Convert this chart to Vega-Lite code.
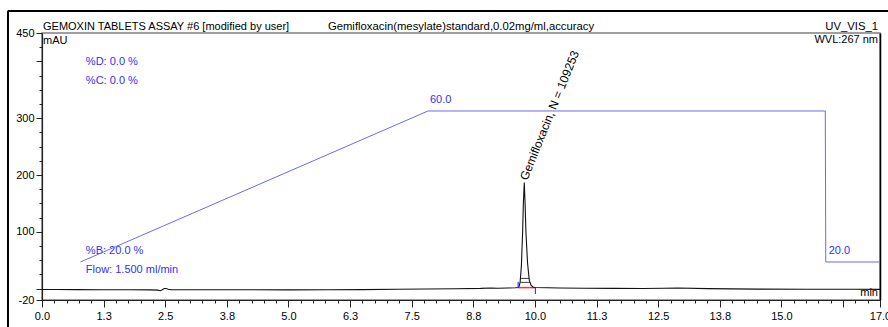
{
  "$schema": "https://vega.github.io/schema/vega-lite/v6.json",
  "width": 838,
  "height": 267,
  "autosize": {"type": "none"},
  "padding": {"left": 42, "top": 33, "right": 8, "bottom": 27},
  "background": "white",
  "config": {
    "view": {"stroke": "#808080", "strokeWidth": 1.5},
    "axis": {"labelFont": "Liberation Sans", "labelFontSize": 11, "labelColor": "#000", "domainColor": "#222", "tickColor": "#222", "grid": false, "title": null, "labelOverlap": false, "labelFlush": false, "labelBound": false},
    "text": {"font": "Liberation Sans", "fontSize": 11}
  },
  "datasets": {
    "chrom": [
      {"t": 0.0, "v": -1.5}, {"t": 0.3, "v": -1.6}, {"t": 0.7, "v": -1.8}, {"t": 1.2, "v": -2.0},
      {"t": 1.8, "v": -2.0}, {"t": 2.2, "v": -2.1}, {"t": 2.35, "v": -2.6}, {"t": 2.40, "v": -3.6},
      {"t": 2.44, "v": -2.0}, {"t": 2.48, "v": 0.2}, {"t": 2.52, "v": 0.3}, {"t": 2.56, "v": -1.0},
      {"t": 2.62, "v": -1.9}, {"t": 2.8, "v": -2.0}, {"t": 3.5, "v": -2.0}, {"t": 4.2, "v": -2.0},
      {"t": 5.0, "v": -2.1}, {"t": 5.8, "v": -2.0}, {"t": 6.5, "v": -1.7}, {"t": 7.2, "v": -1.2},
      {"t": 7.8, "v": -0.7}, {"t": 8.4, "v": -0.1}, {"t": 8.9, "v": 0.4}, {"t": 9.1, "v": 1.0},
      {"t": 9.25, "v": 0.8}, {"t": 9.45, "v": 1.2}, {"t": 9.60, "v": 1.5}, {"t": 9.66, "v": 2.0},
      {"t": 9.68, "v": 4.0}, {"t": 9.70, "v": 12}, {"t": 9.725, "v": 40}, {"t": 9.75, "v": 100},
      {"t": 9.765, "v": 150}, {"t": 9.784, "v": 187}, {"t": 9.80, "v": 150}, {"t": 9.817, "v": 100},
      {"t": 9.85, "v": 45}, {"t": 9.885, "v": 15}, {"t": 9.92, "v": 6}, {"t": 9.966, "v": 2.5},
      {"t": 10.02, "v": 2.0}, {"t": 10.5, "v": 1.2}, {"t": 11.0, "v": 0.8}, {"t": 11.6, "v": 0.5},
      {"t": 12.2, "v": 0.3}, {"t": 12.6, "v": 0.8}, {"t": 12.9, "v": 1.0}, {"t": 13.5, "v": 0.0},
      {"t": 14.5, "v": -0.8}, {"t": 15.5, "v": -1.0}, {"t": 16.5, "v": -1.2}, {"t": 17.0, "v": -1.3}
    ],
    "gradient": [
      {"t": 0.78, "B": 20}, {"t": 7.83, "B": 60}, {"t": 15.89, "B": 60}, {"t": 15.9, "B": 20}, {"t": 17.0, "B": 20}
    ],
    "notes": [
      {"t": 0.89, "v": 399, "label": "%D: 0.0 %"},
      {"t": 0.89, "v": 365.6, "label": "%C: 0.0 %"},
      {"t": 0.89, "v": 66.3, "label": "%B: 20.0 %"},
      {"t": 0.89, "v": 32.8, "label": "Flow: 1.500 ml/min"}
    ],
    "gradnotes": [
      {"t": 7.87, "B": 62.8, "label": "60.0"},
      {"t": 15.96, "B": 23, "label": "20.0"}
    ],
    "peak": [
      {"t": 9.77, "v": 192, "label": "Gemifloxacin, N = 109253"}
    ],
    "widths": [
      {"t": 9.70, "t2": 9.897, "v": 11},
      {"t": 9.706, "t2": 9.878, "v": 18}
    ],
    "delim": [
      {"t": 9.66, "v": 1.5, "v2": 12},
      {"t": 10.01, "v": 2.0, "v2": -9.5}
    ],
    "base": [
      {"t": 9.66, "t2": 10.01, "v": 1.8}
    ]
  },
  "layer": [
    {
      "layer": [
        {
          "data": {"values": [{}]},
          "mark": {"type": "rule", "color": "#000", "strokeWidth": 2},
          "encoding": {
            "x": {"datum": -0.69, "type": "quantitative", "title": null},
            "y": {"datum": -70, "type": "quantitative", "title": null},
            "y2": {"datum": 489}
          }
        },
        {
          "data": {"values": [{}]},
          "mark": {"type": "rule", "color": "#000", "strokeWidth": 2},
          "encoding": {
            "x": {"datum": -0.69, "type": "quantitative", "title": null},
            "x2": {"datum": 17.3},
            "y": {"datum": 488.7, "type": "quantitative", "title": null}
          }
        },
        {
          "data": {"name": "base"},
          "mark": {"type": "rule", "color": "#ff3030", "strokeWidth": 1.5},
          "encoding": {
            "x": {"field": "t", "type": "quantitative", "title": null},
            "x2": {"field": "t2"},
            "y": {"field": "v", "type": "quantitative", "title": null}
          }
        },
        {
          "data": {"name": "chrom"},
          "mark": {"type": "line", "color": "#111", "strokeWidth": 1.1},
          "encoding": {
            "x": {
              "field": "t", "type": "quantitative",
              "scale": {"domain": [0, 17], "nice": false, "zero": false},
              "axis": {
                "orient": "bottom",
                "tickCount": 500,
                "values": [0,0.25,0.5,0.75,1,1.25,1.5,1.75,2,2.25,2.5,2.75,3,3.25,3.5,3.75,4,4.25,4.5,4.75,5,5.25,5.5,5.75,6,6.25,6.5,6.75,7,7.25,7.5,7.75,8,8.25,8.5,8.75,9,9.25,9.5,9.75,10,10.25,10.5,10.75,11,11.25,11.5,11.75,12,12.25,12.5,12.75,13,13.25,13.5,13.75,14,14.25,14.5,14.75,15,15.25,15.5,15.75,16,16.25,16.5,16.75,17],
                "labelExpr": "((abs(datum.value/1.25 - round(datum.value/1.25)) < 0.001 && datum.value != 16.25) || datum.value == 17) ? format(datum.value, '.1f') : ''",
                "tickSize": {"condition": {"test": "abs(datum.value/1.25 - round(datum.value/1.25)) < 0.001 || datum.value == 17", "value": 7}, "value": 3},
                "labelOverlap": false, "labelFlush": false, "labelBound": false,
                "labelPadding": 3, "domainWidth": 1.2, "title": null
              }
            },
            "y": {
              "field": "v", "type": "quantitative",
              "scale": {"domain": [-20, 450], "nice": false, "zero": false},
              "axis": {
                "orient": "left",
                "tickCount": 500,
                "values": [-20,0,25,50,75,100,125,150,175,200,225,250,275,300,325,350,375,400,425,450],
                "labelExpr": "(datum.value == -20 || datum.value == 100 || datum.value == 200 || datum.value == 300 || datum.value == 450) ? datum.value : ''",
                "tickSize": {"condition": {"test": "datum.value == -20 || datum.value == 0 || datum.value == 100 || datum.value == 200 || datum.value == 300 || datum.value == 400 || datum.value == 450", "value": 6}, "value": 3},
                "labelOverlap": false, "labelFlush": false, "labelBound": false,
                "labelPadding": 2, "domainWidth": 1.2, "title": null
              }
            }
          }
        },
        {
          "data": {"name": "widths"},
          "mark": {"type": "rule", "color": "#111", "strokeWidth": 0.8},
          "encoding": {
            "x": {"field": "t", "type": "quantitative", "title": null},
            "x2": {"field": "t2"},
            "y": {"field": "v", "type": "quantitative", "title": null}
          }
        },
        {
          "data": {"name": "delim"},
          "mark": {"type": "rule", "color": "#3a3aff", "strokeWidth": 1.2},
          "encoding": {
            "x": {"field": "t", "type": "quantitative", "title": null},
            "y": {"field": "v", "type": "quantitative", "title": null},
            "y2": {"field": "v2"}
          }
        },
        {
          "data": {"name": "notes"},
          "mark": {"type": "text", "align": "left", "baseline": "middle", "color": "#3030ff", "fontSize": 11},
          "encoding": {
            "x": {"field": "t", "type": "quantitative", "title": null},
            "y": {"field": "v", "type": "quantitative", "title": null},
            "text": {"field": "label"}
          }
        },
        {
          "data": {"name": "peak"},
          "mark": {"type": "text", "align": "left", "baseline": "middle", "angle": 292, "color": "#000", "fontSize": 12},
          "encoding": {
            "x": {"field": "t", "type": "quantitative", "title": null},
            "y": {"field": "v", "type": "quantitative", "title": null},
            "text": {"field": "label"}
          }
        },
        {
          "data": {"values": [{}]},
          "mark": {"type": "text", "text": "GEMOXIN TABLETS ASSAY #6 [modified by user]", "align": "left", "baseline": "alphabetic", "dy": -3, "fontSize": 11, "color": "#000"},
          "encoding": {"x": {"datum": 0.02, "type": "quantitative", "title": null}, "y": {"datum": 450, "type": "quantitative", "title": null}}
        },
        {
          "data": {"values": [{}]},
          "mark": {"type": "text", "text": "Gemifloxacin(mesylate)standard,0.02mg/ml,accuracy", "align": "center", "baseline": "alphabetic", "dy": -3, "fontSize": 11.3, "color": "#000"},
          "encoding": {"x": {"datum": 8.5, "type": "quantitative", "title": null}, "y": {"datum": 450, "type": "quantitative", "title": null}}
        },
        {
          "data": {"values": [{}]},
          "mark": {"type": "text", "text": "UV_VIS_1", "align": "right", "baseline": "alphabetic", "dx": -2, "dy": -3, "fontSize": 11.3, "color": "#000"},
          "encoding": {"x": {"datum": 17, "type": "quantitative", "title": null}, "y": {"datum": 450, "type": "quantitative", "title": null}}
        },
        {
          "data": {"values": [{}]},
          "mark": {"type": "text", "text": "mAU", "align": "left", "baseline": "top", "dy": 2, "fontSize": 11, "color": "#000"},
          "encoding": {"x": {"datum": 0.02, "type": "quantitative", "title": null}, "y": {"datum": 450, "type": "quantitative", "title": null}}
        },
        {
          "data": {"values": [{}]},
          "mark": {"type": "text", "text": "WVL:267 nm", "align": "right", "baseline": "top", "dx": -2, "dy": 1, "fontSize": 11, "color": "#000"},
          "encoding": {"x": {"datum": 17, "type": "quantitative", "title": null}, "y": {"datum": 450, "type": "quantitative", "title": null}}
        },
        {
          "data": {"values": [{}]},
          "mark": {"type": "text", "text": "min", "align": "right", "baseline": "alphabetic", "dx": -2, "dy": -4, "fontSize": 11, "color": "#000"},
          "encoding": {"x": {"datum": 17, "type": "quantitative", "title": null}, "y": {"datum": -20, "type": "quantitative", "title": null}}
        }
      ]
    },
    {
      "layer": [
        {
          "data": {"name": "gradient"},
          "mark": {"type": "line", "color": "#6a6af0", "strokeWidth": 1},
          "encoding": {
            "x": {"field": "t", "type": "quantitative", "title": null},
            "y": {
              "field": "B", "type": "quantitative",
              "scale": {"domain": [9.93, 80.66], "nice": false, "zero": false},
              "axis": {"orient": "right", "labels": false, "ticks": false, "domainColor": "#000", "domainWidth": 1.5, "title": null}
            }
          }
        },
        {
          "data": {"name": "gradnotes"},
          "mark": {"type": "text", "align": "left", "baseline": "middle", "color": "#3030ff", "fontSize": 11},
          "encoding": {
            "x": {"field": "t", "type": "quantitative", "title": null},
            "y": {"field": "B", "type": "quantitative", "title": null},
            "text": {"field": "label"}
          }
        }
      ]
    }
  ],
  "resolve": {"scale": {"y": "independent"}}
}
